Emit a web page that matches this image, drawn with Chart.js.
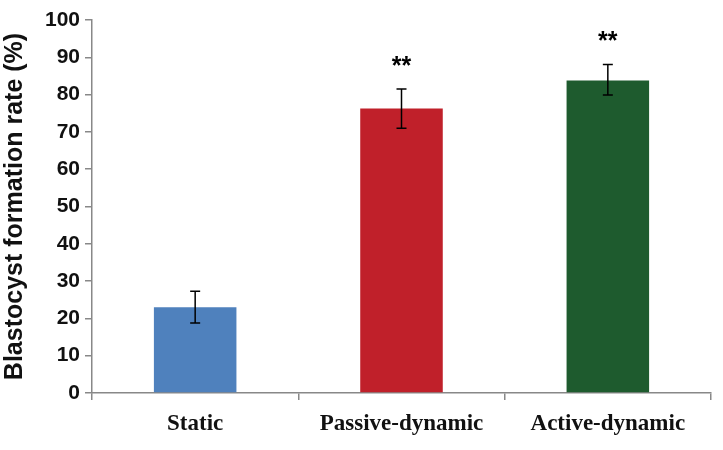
<!DOCTYPE html>
<html>
<head>
<meta charset="utf-8">
<script src="https://cdn.jsdelivr.net/npm/chart.js@4"></script>
<style>
  html, body { margin: 0; padding: 0; background: #fff; }
  #wrap { width: 723px; height: 450px; }
</style>
</head>
<body>
<div id="wrap"><canvas id="blastChart"></canvas></div>
<script>
// values
const categories = ["Static", "Passive-dynamic", "Active-dynamic"];
const rates = [23.0, 76.3, 83.8];
const errLow = [18.8, 71.0, 79.9];
const errHigh = [27.3, 81.5, 88.1];
const stars = ["", "**", "**"];
const barColors = ["#4F81BD", "#C0202A", "#1E5B2E"];

// error bars + significance stars
const errorBarPlugin = {
  id: "errorBars",
  afterDatasetsDraw(chart) {
    const ctx = chart.ctx;
    const y = chart.scales.y;
    const meta = chart.getDatasetMeta(0);
    ctx.save();
    ctx.strokeStyle = "#000";
    ctx.lineWidth = 1.5;
    meta.data.forEach((bar, i) => {
      const x = bar.x;
      const top = y.getPixelForValue(errHigh[i]);
      const bot = y.getPixelForValue(errLow[i]);
      ctx.beginPath();
      ctx.moveTo(x, top); ctx.lineTo(x, bot);
      ctx.moveTo(x - 5, top); ctx.lineTo(x + 5, top);
      ctx.moveTo(x - 5, bot); ctx.lineTo(x + 5, bot);
      ctx.stroke();
      if (stars[i]) {
        ctx.fillStyle = "#000";
        ctx.font = "bold 25px 'Liberation Sans', Arial, sans-serif";
        ctx.textAlign = "center";
        ctx.textBaseline = "middle";
        ctx.fillText(stars[i], x, top - 22);
      }
    });
    ctx.restore();
  }
};

const ctx = document.getElementById("blastChart").getContext("2d");

new Chart(ctx, {
  type: "bar",
  data: {
    labels: categories,
    datasets: [{
      data: rates,
      backgroundColor: barColors,
      borderWidth: 0,
      barPercentage: 0.4,
      categoryPercentage: 1.0
    }]
  },
  options: {
    responsive: true,
    maintainAspectRatio: false,
    animation: false,
    layout: { padding: { top: 20, right: 12, left: 0, bottom: 0 } },
    plugins: {
      legend: { display: false },
      tooltip: { enabled: false }
    },
    scales: {
      x: {
        afterFit: (s) => { s.height = 57; },
        border: { color: "#888", width: 1.5 },
        grid: { display: true, drawOnChartArea: false, drawTicks: true, tickLength: 7, color: "#888", lineWidth: 1.5, offset: true },
        ticks: {
          color: "#111",
          padding: 10,
          maxRotation: 0,
          font: { family: "'Liberation Serif', 'Times New Roman', serif", size: 23, weight: "bold" }
        }
      },
      y: {
        min: 0,
        max: 100,
        afterFit: (s) => { s.width = 92; },
        border: { color: "#888", width: 1.5 },
        grid: { display: true, drawOnChartArea: false, drawTicks: true, tickLength: 7, color: "#888", lineWidth: 1.5 },
        ticks: {
          stepSize: 10,
          color: "#111",
          padding: 5,
          font: { family: "'Liberation Sans', Arial, sans-serif", size: 21, weight: "bold" }
        },
        title: {
          display: true,
          text: "Blastocyst formation rate (%)",
          color: "#111",
          padding: { top: 0, bottom: 0 },
          font: { family: "'Liberation Sans', Arial, sans-serif", size: 25, weight: "bold" }
        }
      }
    }
  },
  plugins: [errorBarPlugin]
});
</script>
</body>
</html>
